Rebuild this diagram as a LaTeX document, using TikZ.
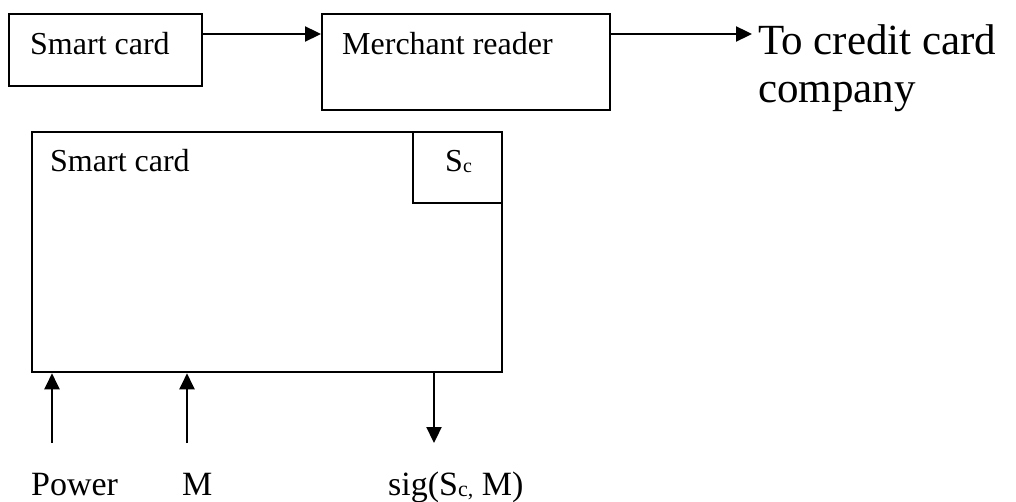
\documentclass[tikz,border=0pt]{standalone}
\usepackage{fontspec}
\setmainfont{Liberation Serif}
\usetikzlibrary{arrows.meta}
\newcommand{\smallsub}[2]{\raisebox{-1pt}{\fontsize{#1}{#1}\selectfont #2}}
\begin{document}
\begin{tikzpicture}[x=1pt,y=-1pt,
  box/.style={draw,line width=2.3pt,rectangle,inner sep=0pt,anchor=north west},
  lbl/.style={inner sep=0pt,anchor=base west,font=\fontsize{32}{38}\selectfont},
  biglbl/.style={inner sep=0pt,anchor=base west,align=left,font=\fontsize{43}{48}\selectfont},
  iolbl/.style={inner sep=0pt,anchor=base west,font=\fontsize{34}{40}\selectfont},
  flow/.style={line width=2.3pt,-{Triangle[length=16pt 0 0,width=15pt 0 0]}}]
\useasboundingbox (0,0) rectangle (1016,502);

% top row: card -> reader -> issuer
\node[box,minimum width=193pt,minimum height=72pt] (card1) at (8,13) {};
\node[lbl] (card1txt) at (30,55) {Smart card};
\node[box,minimum width=288pt,minimum height=96pt] (reader) at (321,13) {};
\node[lbl] (readertxt) at (342,55) {Merchant reader};
\node[biglbl] (issuer) at (758,103) {To credit card\\company};
\coordinate (issuerin) at (752,34);

\draw[flow] (card1.north east |- 0,34) -- (reader.north west |- 0,34);
\draw[flow] (reader.north east |- 0,34) -- (issuerin);

% card detail with its secret key
\node[box,minimum width=470pt,minimum height=240pt] (card) at (31,131) {};
\node[lbl] (cardtxt) at (50,172) {Smart card};
\node[box,minimum width=89pt,minimum height=71pt] (key) at (412,131) {};
\node[lbl] (keytxt) at (445,172) {S\smallsub{20}{c}};

% inputs and output
\coordinate (pwin) at (52,443);
\coordinate (msgin) at (187,443);
\coordinate (sigout) at (434,443);
\draw[flow] (pwin) -- (pwin |- card.south);
\draw[flow] (msgin) -- (msgin |- card.south);
\draw[flow] (card.south -| sigout) -- (sigout);

\node[iolbl] (pw) at (31,495) {Power};
\node[iolbl] (msg) at (182,495) {M};
\node[iolbl] (sig) at (388,495) {sig(S\smallsub{22}{c,} M)};
\end{tikzpicture}
\end{document}
